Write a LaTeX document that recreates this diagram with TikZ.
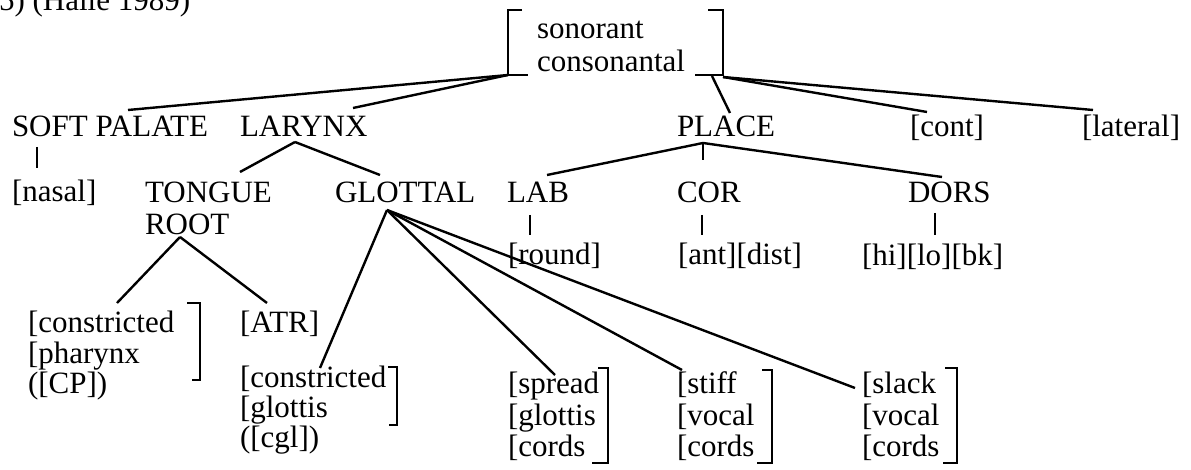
\documentclass[tikz,border=0pt]{standalone}
\usepackage{fontspec}
\setmainfont{Liberation Serif}
\usetikzlibrary{calc}

\newcommand{\featlines}[1]{\begin{tabular}[t]{@{}l@{}}#1\end{tabular}}

\begin{document}
\begin{tikzpicture}[
    x=0.5pt, y=-0.5pt,
    font=\fontsize{15.5}{15}\selectfont,
    every node/.style={inner sep=0pt, outer sep=0pt, anchor=base west},
    tie/.style={line width=1.2pt},
    brk/.style={line width=1.3pt},
    wide/.style={font=\fontsize{15.5}{16.5}\selectfont},
    mid/.style={font=\fontsize{15.5}{16}\selectfont},
    low/.style={font=\fontsize{15.5}{15.75}\selectfont},
    tight/.style={font=\fontsize{15.5}{14.5}\selectfont},
    tighter/.style={font=\fontsize{15.5}{14}\selectfont}
]
\useasboundingbox (0,0) rectangle (1191,470);
\clip (0,0) rectangle (1191,470);

\node (title) at (-1,11) {5) (Halle 1989)};

% top of the tree
\node[wide] (sonc) at (537,39) {\featlines{sonorant\\consonantal}};
\draw[brk] (522,10) -- (508,10) -- (508,75) -- (528,75);
\draw[brk] (708,10) -- (723,10) -- (723,75) -- (695,75);

\node (softpal) at (12,137) {SOFT PALATE};
\node (larynx) at (240,137) {LARYNX};
\node (place) at (677,137) {PLACE};
\node (cont) at (910,137) {[cont]};
\node (lateral) at (1082,137) {[lateral]};

\draw[tie] ($(sonc.base west)+(-29,36)$) -- ($(softpal.base west)+(116,-27)$);
\draw[tie] ($(sonc.base west)+(-29,36)$) -- ($(larynx.base west)+(113,-29)$);
\draw[tie] ($(sonc.base west)+(175,37)$) -- ($(place.base west)+(53,-24)$);
\draw[tie] ($(sonc.base west)+(186,38)$) -- ($(cont.base west)+(17,-25)$);
\draw[tie] ($(sonc.base west)+(186,38)$) -- ($(lateral.base west)+(11,-27)$);

% second row
\node (nasal) at (12,202) {[nasal]};
\node[mid] (tongue) at (145,203) {\featlines{TONGUE\\ROOT}};
\node (glottal) at (335,203) {GLOTTAL};
\node (lab) at (507,203) {LAB};
\node (cor) at (677,203) {COR};
\node (dors) at (908,203) {DORS};

\draw[tie] ($(softpal.base west)+(25,10)$) -- ($(nasal.base west)+(25,-34)$);
\draw[tie] ($(larynx.base west)+(55,5)$) -- ($(tongue.base west)+(95,-31)$);
\draw[tie] ($(larynx.base west)+(55,5)$) -- ($(glottal.base west)+(45,-28)$);
\draw[tie] ($(place.base west)+(26,6)$) -- ($(lab.base west)+(40,-28)$);
\draw[tie] ($(place.base west)+(26,6)$) -- ($(cor.base west)+(26,-43)$);
\draw[tie] ($(place.base west)+(26,6)$) -- ($(dors.base west)+(34,-26)$);

% place features
\node (round) at (508,265) {[round]};
\node (antdist) at (678,265) {[ant][dist]};
\node (hilobk) at (862,266) {[hi][lo][bk]};

\draw[tie] ($(lab.base west)+(23,12)$) -- ($(round.base west)+(22,-30)$);
\draw[tie] ($(cor.base west)+(25,12)$) -- ($(antdist.base west)+(24,-30)$);
\draw[tie] ($(dors.base west)+(27,10)$) -- ($(hilobk.base west)+(73,-31)$);

% tongue root features
\node[tight] (cp) at (28,333) {\featlines{[constricted\\{[}pharynx\\([CP])}};
\node (atr) at (240,333) {[ATR]};
\draw[brk] (187,303) -- (200,303) -- (200,380) -- (192,380);

\draw[tie] ($(tongue.base west)+(35,34)$) -- ($(cp.base west)+(89,-30)$);
\draw[tie] ($(tongue.base west)+(35,34)$) -- ($(atr.base west)+(27,-30)$);

% glottal features
\node[tighter] (cg) at (240,388) {\featlines{[constricted\\{[}glottis\\([cgl])}};
\node[low] (spread) at (508,394) {\featlines{[spread\\{[}glottis\\{[}cords}};
\node[low] (stiff) at (677,394) {\featlines{[stiff\\{[}vocal\\{[}cords}};
\node[low] (slack) at (862,394) {\featlines{[slack\\{[}vocal\\{[}cords}};
\draw[brk] (388,367) -- (397,367) -- (397,425) -- (389,425);
\draw[brk] (598,368) -- (608,368) -- (608,463) -- (592,463);
\draw[brk] (762,370) -- (772,370) -- (772,463) -- (757,463);
\draw[brk] (945,368) -- (957,368) -- (957,463) -- (943,463);

\draw[tie] ($(glottal.base west)+(52,7)$) -- ($(cg.base west)+(80,-20)$);
\draw[tie] ($(glottal.base west)+(52,7)$) -- ($(spread.base west)+(47,-19)$);
\draw[tie] ($(glottal.base west)+(52,7)$) -- ($(stiff.base west)+(5,-24)$);
\draw[tie] ($(glottal.base west)+(52,7)$) -- ($(slack.base west)+(-7,-6)$);
\end{tikzpicture}
\end{document}
